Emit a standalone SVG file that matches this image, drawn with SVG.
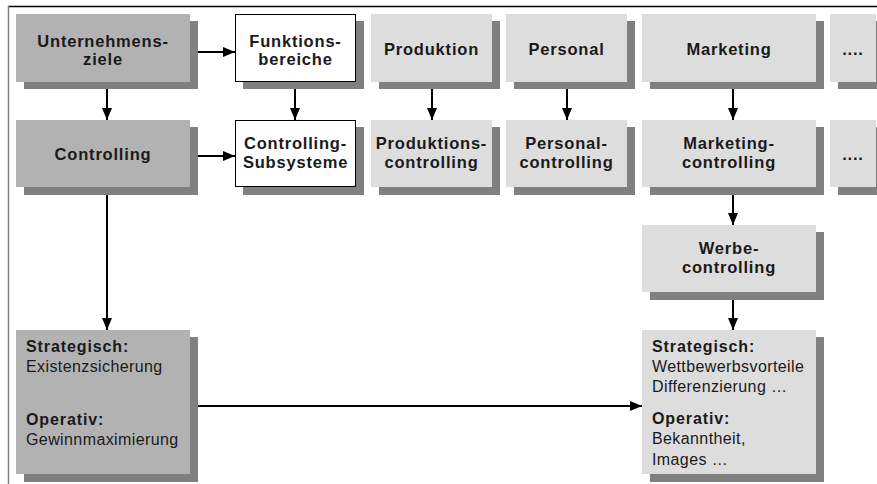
<svg xmlns="http://www.w3.org/2000/svg" width="877" height="484" viewBox="0 0 877 484">
<style>
.sh{fill:#808080}
.dk{fill:#b2b2b2}
.lt{fill:#dddddd}
.wh{fill:#ffffff;stroke:#000;stroke-width:1}
.t{font-family:"Liberation Sans",Arial,sans-serif;font-weight:700;font-size:16.5px;letter-spacing:0.8px;fill:#1a1a1a;text-anchor:middle}
.b{font-family:"Liberation Sans",Arial,sans-serif;font-weight:700;font-size:16px;letter-spacing:0.9px;fill:#1a1a1a}
.r{font-family:"Liberation Sans",Arial,sans-serif;font-weight:400;font-size:16px;letter-spacing:0.4px;fill:#1a1a1a}
.c{stroke:#000;stroke-width:2;fill:none;marker-end:url(#ah)}
</style>
<defs>
<marker id="ah" markerUnits="userSpaceOnUse" markerWidth="12" markerHeight="10" refX="12" refY="5" orient="auto">
<path d="M0,0 L12,5 L0,10 z" fill="#000"/>
</marker>
</defs>
<rect width="877" height="484" fill="#fff"/>
<line x1="8" y1="6.5" x2="877" y2="6.5" stroke="#000" stroke-width="1.5"/>
<line x1="8.5" y1="6" x2="8.5" y2="484" stroke="#808080" stroke-width="1.5"/>

<g id="unternehmensziele">
<rect class="sh" x="24" y="21" width="174" height="68"/>
<rect class="dk" x="16" y="14" width="174" height="68"/>
<text class="t" x="103" y="46.5">Unternehmens-</text>
<text class="t" x="103" y="65">ziele</text>
</g>
<g id="funktionsbereiche">
<rect class="sh" x="243" y="21" width="121" height="68"/>
<rect class="wh" x="235.5" y="14.5" width="120" height="67"/>
<text class="t" x="295.5" y="46.5">Funktions-</text>
<text class="t" x="295.5" y="65">bereiche</text>
</g>
<g id="produktion">
<rect class="sh" x="379" y="21" width="121" height="68"/>
<rect class="lt" x="371" y="14" width="121" height="68"/>
<text class="t" x="431.5" y="55">Produktion</text>
</g>
<g id="personal">
<rect class="sh" x="514" y="21" width="121" height="68"/>
<rect class="lt" x="506" y="14" width="121" height="68"/>
<text class="t" x="566.5" y="55">Personal</text>
</g>
<g id="marketing">
<rect class="sh" x="650" y="21" width="174" height="68"/>
<rect class="lt" x="642" y="14" width="174" height="68"/>
<text class="t" x="729" y="55">Marketing</text>
</g>
<g id="more1">
<rect class="sh" x="838" y="21" width="39" height="68"/>
<rect class="lt" x="830" y="14" width="46" height="68"/>
<text class="t" x="853" y="55">....</text>
</g>

<g id="controlling">
<rect class="sh" x="24" y="127" width="174" height="68"/>
<rect class="dk" x="16" y="120" width="174" height="67"/>
<text class="t" x="103" y="160">Controlling</text>
</g>
<g id="controlling-subsysteme">
<rect class="sh" x="243" y="127" width="121" height="68"/>
<rect class="wh" x="235.5" y="120.5" width="120" height="66"/>
<text class="t" x="295.5" y="149">Controlling-</text>
<text class="t" x="295.5" y="167.5">Subsysteme</text>
</g>
<g id="produktionscontrolling">
<rect class="sh" x="379" y="127" width="121" height="68"/>
<rect class="lt" x="371" y="120" width="121" height="67"/>
<text class="t" x="431.5" y="149">Produktions-</text>
<text class="t" x="431.5" y="167.5">controlling</text>
</g>
<g id="personalcontrolling">
<rect class="sh" x="514" y="127" width="121" height="68"/>
<rect class="lt" x="506" y="120" width="121" height="67"/>
<text class="t" x="566.5" y="149">Personal-</text>
<text class="t" x="566.5" y="167.5">controlling</text>
</g>
<g id="marketingcontrolling">
<rect class="sh" x="650" y="127" width="174" height="68"/>
<rect class="lt" x="642" y="120" width="174" height="67"/>
<text class="t" x="729" y="149">Marketing-</text>
<text class="t" x="729" y="167.5">controlling</text>
</g>
<g id="more2">
<rect class="sh" x="838" y="127" width="39" height="68"/>
<rect class="lt" x="830" y="120" width="46" height="67"/>
<text class="t" x="853" y="160">....</text>
</g>

<g id="werbecontrolling">
<rect class="sh" x="650" y="232" width="174" height="68"/>
<rect class="lt" x="642" y="225" width="174" height="67"/>
<text class="t" x="729" y="254">Werbe-</text>
<text class="t" x="729" y="272.5">controlling</text>
</g>

<g id="ziele-unternehmen">
<rect class="sh" x="24" y="337" width="174" height="145"/>
<rect class="dk" x="16" y="330" width="174" height="144"/>
<text class="b" x="26" y="351.5">Strategisch:</text>
<text class="r" x="26" y="371.5">Existenzsicherung</text>
<text class="b" x="26" y="425">Operativ:</text>
<text class="r" x="26" y="445">Gewinnmaximierung</text>
</g>
<g id="ziele-werbung">
<rect class="sh" x="650" y="337" width="174" height="145"/>
<rect class="lt" x="642" y="330" width="174" height="144"/>
<text class="b" x="652" y="351.5">Strategisch:</text>
<text class="r" x="652" y="371.5">Wettbewerbsvorteile</text>
<text class="r" x="652" y="391.5">Differenzierung …</text>
<text class="b" x="652" y="424">Operativ:</text>
<text class="r" x="652" y="444">Bekanntheit,</text>
<text class="r" x="652" y="464.5">Images …</text>
</g>

<g id="connectors">
<line class="c" x1="198" y1="52" x2="235" y2="52"/>
<line class="c" x1="198" y1="156" x2="235" y2="156"/>
<line class="c" x1="107" y1="89" x2="107" y2="120"/>
<line class="c" x1="295" y1="89" x2="295" y2="120"/>
<line class="c" x1="432" y1="89" x2="432" y2="120"/>
<line class="c" x1="567" y1="89" x2="567" y2="120"/>
<line class="c" x1="733" y1="89" x2="733" y2="120"/>
<line class="c" x1="733" y1="195" x2="733" y2="225"/>
<line class="c" x1="733" y1="300" x2="733" y2="330"/>
<line class="c" x1="107" y1="195" x2="107" y2="330"/>
<line class="c" x1="198" y1="406" x2="642" y2="406"/>
</g>
</svg>
